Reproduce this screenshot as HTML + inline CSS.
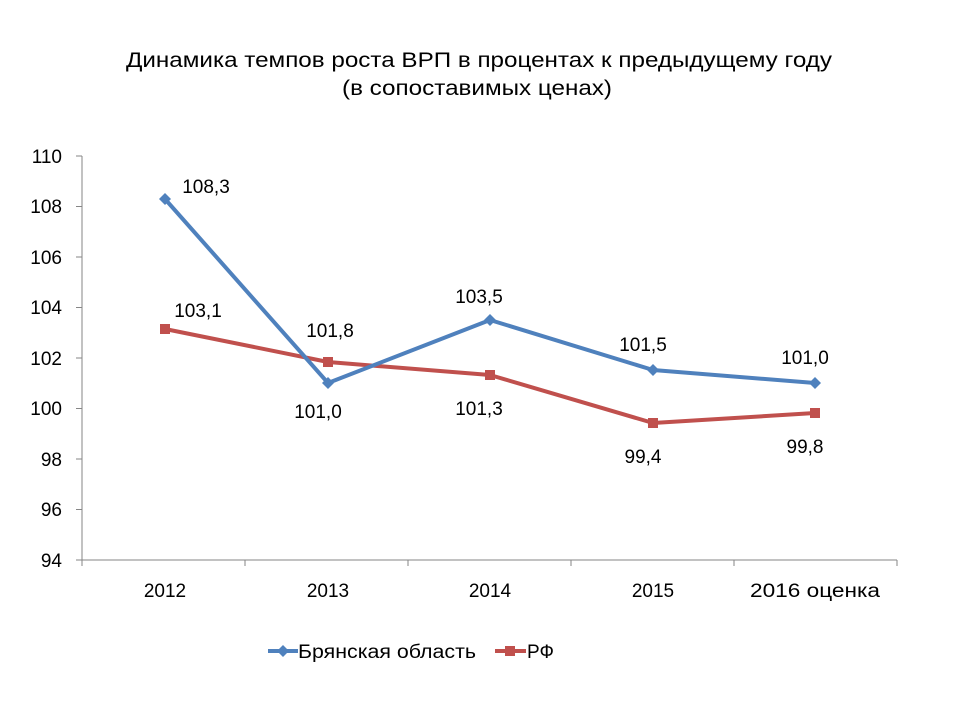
<!DOCTYPE html>
<html><head><meta charset="utf-8"><style>
body{margin:0;background:#fff;}
text{font-family:"Liberation Sans","DejaVu Sans",sans-serif;fill:#000;}
</style></head><body>
<svg width="960" height="720" viewBox="0 0 960 720" xmlns="http://www.w3.org/2000/svg">
<text x="126" y="67" font-size="21" textLength="706" lengthAdjust="spacingAndGlyphs">Динамика темпов роста ВРП в процентах к предыдущему году</text>
<text x="342" y="95" font-size="21" textLength="270" lengthAdjust="spacingAndGlyphs">(в сопоставимых ценах)</text>
<g stroke="#868686" stroke-width="1">
<line x1="82" y1="156" x2="82" y2="560"/>
<line x1="82" y1="560" x2="897" y2="560"/>
<line x1="76" y1="156" x2="82" y2="156"/><line x1="76" y1="206.5" x2="82" y2="206.5"/>
<line x1="76" y1="257" x2="82" y2="257"/><line x1="76" y1="307.5" x2="82" y2="307.5"/>
<line x1="76" y1="358" x2="82" y2="358"/><line x1="76" y1="408.5" x2="82" y2="408.5"/>
<line x1="76" y1="459" x2="82" y2="459"/><line x1="76" y1="509.5" x2="82" y2="509.5"/>
<line x1="76" y1="560" x2="82" y2="560"/>
<line x1="82" y1="560" x2="82" y2="566"/><line x1="245" y1="560" x2="245" y2="566"/>
<line x1="408" y1="560" x2="408" y2="566"/><line x1="571" y1="560" x2="571" y2="566"/>
<line x1="734" y1="560" x2="734" y2="566"/><line x1="897" y1="560" x2="897" y2="566"/>
</g>
<g font-size="19" text-anchor="end">
<text x="62" y="163">110</text><text x="62" y="213">108</text><text x="62" y="264">106</text>
<text x="62" y="314">104</text><text x="62" y="365">102</text><text x="62" y="415">100</text>
<text x="62" y="466">98</text><text x="62" y="516">96</text><text x="62" y="567">94</text>
</g>
<g font-size="19" text-anchor="middle">
<text x="165" y="597">2012</text><text x="328" y="597">2013</text><text x="490" y="597">2014</text>
<text x="653" y="597">2015</text><text x="815" y="597" textLength="130" lengthAdjust="spacingAndGlyphs">2016 оценка</text>
</g>
<polyline points="165,329 328,362 490,375 653,423 815,413" fill="none" stroke="#C0504D" stroke-width="4" stroke-linejoin="round"/>
<g fill="#C0504D">
<rect x="160" y="324" width="10" height="10"/><rect x="323" y="357" width="10" height="10"/>
<rect x="485" y="370" width="10" height="10"/><rect x="648" y="418" width="10" height="10"/>
<rect x="810" y="408" width="10" height="10"/>
</g>
<polyline points="165,199 328,383 490,320 653,370 815,383" fill="none" stroke="#4F81BD" stroke-width="4" stroke-linejoin="round"/>
<g fill="#4F81BD">
<path d="M165 193l6 6-6 6-6-6z"/><path d="M328 377l6 6-6 6-6-6z"/>
<path d="M490 314l6 6-6 6-6-6z"/><path d="M653 364l6 6-6 6-6-6z"/>
<path d="M815 377l6 6-6 6-6-6z"/>
</g>
<g font-size="19" text-anchor="middle">
<text x="206" y="193">108,3</text><text x="198" y="317">103,1</text>
<text x="330" y="337">101,8</text><text x="318" y="418">101,0</text>
<text x="479" y="303">103,5</text><text x="479" y="415">101,3</text>
<text x="643" y="351">101,5</text><text x="643" y="463">99,4</text>
<text x="805" y="364">101,0</text><text x="805" y="453">99,8</text>
</g>
<line x1="268" y1="651" x2="298" y2="651" stroke="#4F81BD" stroke-width="4"/>
<path d="M283 645l6 6-6 6-6-6z" fill="#4F81BD"/>
<text x="298" y="658" font-size="19" textLength="178" lengthAdjust="spacingAndGlyphs">Брянская область</text>
<line x1="495" y1="651" x2="526" y2="651" stroke="#C0504D" stroke-width="4"/>
<rect x="505" y="646" width="10" height="10" fill="#C0504D"/>
<text x="527" y="658" font-size="19">РФ</text>
</svg>
</body></html>
